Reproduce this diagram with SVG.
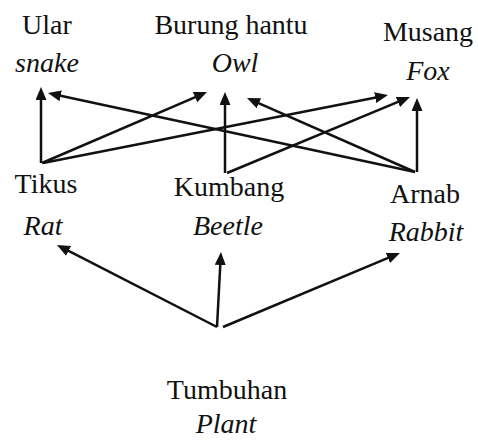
<svg xmlns="http://www.w3.org/2000/svg" width="478" height="441" viewBox="0 0 478 441">
<style>
text{font-family:"Liberation Serif","Times New Roman",serif;font-size:28px;fill:#111;text-anchor:middle}
.it{font-style:italic}
.c line{stroke:#111;stroke-width:2.5;marker-end:url(#ah)}
</style>
<defs>
<marker id="ah" markerUnits="userSpaceOnUse" markerWidth="14" markerHeight="12" refX="6" refY="5.5" orient="auto">
<path d="M0,0 L13,5.5 L0,11 z" fill="#111"/>
</marker>
</defs>
<rect width="478" height="441" fill="#fff"/>
<g id="snake"><text x="47" y="34">Ular</text><text class="it" x="47" y="72">snake</text></g>
<g id="owl"><text x="231" y="34">Burung hantu</text><text class="it" x="235" y="72">Owl</text></g>
<g id="fox"><text x="428" y="41">Musang</text><text class="it" x="428" y="80">Fox</text></g>
<g id="rat"><text x="46" y="193">Tikus</text><text class="it" x="43" y="235">Rat</text></g>
<g id="beetle"><text x="229" y="196">Kumbang</text><text class="it" x="228" y="235">Beetle</text></g>
<g id="rabbit"><text x="425" y="203">Arnab</text><text class="it" x="426" y="241">Rabbit</text></g>
<g id="plant"><text x="227" y="399">Tumbuhan</text><text class="it" x="226" y="433">Plant</text></g>
<g class="c" id="connectors">
<line x1="41" y1="163" x2="41" y2="94"/>
<line x1="42" y1="163" x2="200.6" y2="94.8"/>
<line x1="43" y1="163" x2="381.1" y2="96.4"/>
<line x1="225" y1="173" x2="225" y2="99"/>
<line x1="227" y1="173" x2="403.5" y2="99.7"/>
<line x1="415" y1="172" x2="54.8" y2="94.5"/>
<line x1="415" y1="172" x2="253.4" y2="100.8"/>
<line x1="417" y1="172" x2="417" y2="105"/>
<line x1="217" y1="327" x2="63.2" y2="248.2"/>
<line x1="217" y1="327" x2="220.6" y2="259"/>
<line x1="223" y1="327" x2="393.5" y2="255.7"/>
</g>
</svg>
